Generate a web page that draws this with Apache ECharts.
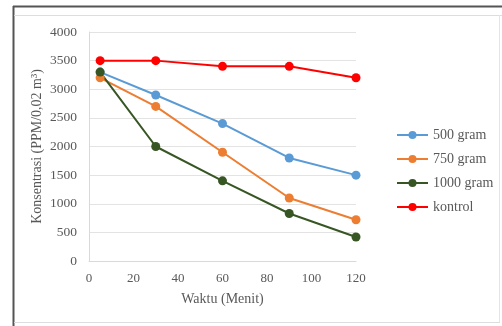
<!DOCTYPE html>
<html><head><meta charset="utf-8">
<script src="https://cdn.jsdelivr.net/npm/echarts@6/dist/echarts.min.js"></script>
<style>html,body{margin:0;padding:0;background:#fff}#c{width:502px;height:326px}</style>
</head><body><div id="c"></div>
<script>
const times = [5, 30, 60, 90, 120];
const seriesNames = ['500 gram', '750 gram', '1000 gram', 'kontrol'];
const s500 = [3300, 2900, 2400, 1800, 1500];
const s750 = [3200, 2700, 1900, 1100, 720];
const s1000 = [3300, 2000, 1400, 830, 420];
const kontrol = [3500, 3500, 3400, 3400, 3200];
const colors = ['#5B9BD5', '#ED7D31', '#375623', '#FF0000'];
const allValues = [s500, s750, s1000, kontrol];

const font = '"Liberation Serif", "DejaVu Serif", serif';
const chart = echarts.init(document.getElementById('c'), null, {renderer: 'canvas'});
chart.setOption({
  animation: false,
  backgroundColor: '#fff',
  graphic: [
    {type: 'line', shape: {x1: 13, y1: 6.5, x2: 502, y2: 6.5}, style: {stroke: '#555', lineWidth: 2}},
    {type: 'line', shape: {x1: 13.5, y1: 6, x2: 13.5, y2: 326}, style: {stroke: '#555', lineWidth: 2}},
    {type: 'line', shape: {x1: 14, y1: 15.5, x2: 502, y2: 15.5}, style: {stroke: '#ddd', lineWidth: 1}},
    {type: 'line', shape: {x1: 499.5, y1: 15, x2: 499.5, y2: 323}, style: {stroke: '#e4e4e4', lineWidth: 1}},
    {type: 'line', shape: {x1: 14, y1: 322.5, x2: 500, y2: 322.5}, style: {stroke: '#ddd', lineWidth: 1}}
  ],
  grid: {left: 89, right: 146, top: 32, bottom: 65},
  legend: {
    orient: 'vertical', left: 391, top: 123, itemGap: 10,
    itemWidth: 31, itemHeight: 10,
    textStyle: {fontFamily: font, fontSize: 14, color: '#595959'},
    data: seriesNames
  },
  xAxis: {
    type: 'value', min: 0, max: 120, interval: 20,
    name: 'Waktu (Menit)', nameLocation: 'middle', nameGap: 31, nameMoveOverlap: false,
    nameTextStyle: {fontFamily: font, fontSize: 14, color: '#595959'},
    axisLine: {show: true, lineStyle: {color: '#d9d9d9'}},
    axisTick: {show: false},
    splitLine: {show: false},
    axisLabel: {fontFamily: font, fontSize: 13, color: '#595959', margin: 11}
  },
  yAxis: {
    type: 'value', min: 0, max: 4000, interval: 500,
    name: 'Konsentrasi (PPM/0,02 m³)', nameLocation: 'middle', nameGap: 45, nameMoveOverlap: false,
    nameTextStyle: {fontFamily: font, fontSize: 14, color: '#595959'},
    axisLine: {show: true, lineStyle: {color: '#d9d9d9'}},
    axisTick: {show: false},
    splitLine: {show: true, lineStyle: {color: '#e3e3e3'}},
    axisLabel: {fontFamily: font, fontSize: 13.5, color: '#595959', margin: 12, formatter: v => String(v)}
  },
  series: seriesNames.map((n, i) => ({
    name: n, type: 'line',
    data: times.map((t, j) => [t, allValues[i][j]]),
    symbol: 'circle', symbolSize: 9,
    lineStyle: {width: 2, color: colors[i]},
    itemStyle: {color: colors[i]}
  }))
});
</script></body></html>
